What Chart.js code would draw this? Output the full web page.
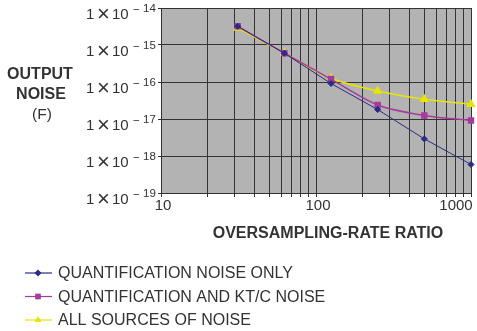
<!DOCTYPE html>
<html>
<head>
<meta charset="utf-8">
<script src="https://cdn.jsdelivr.net/npm/chart.js@4.4.0/dist/chart.umd.min.js"></script>
<style>
  html, body { margin: 0; padding: 0; background: #fff; }
  #wrap { width: 477px; height: 331px; }
</style>
</head>
<body>
<div id="wrap"><canvas id="grafico" width="477" height="331"></canvas></div>
<script>
// razao de sobreamostragem (eixo x)
var razoes = [31.25, 62.5, 125, 250, 500, 1000]

// ruido de saida (F) para cada serie
var ruidoQuantizacao = [3.2e-15, 6.0e-16, 9.1e-17, 1.8e-17, 2.9e-18, 5.9e-19]
var ruidoQuantKtc = [3.2e-15, 6.0e-16, 1.2e-16, 2.4e-17, 1.25e-17, 9.1e-18]
var ruidoTodas = [2.9e-15, 6.0e-16, 1.26e-16, 5.7e-17, 3.4e-17, 2.5e-17]

var nomesSeries = ['QUANTIFICATION NOISE ONLY', 'QUANTIFICATION AND KT/C NOISE', 'ALL SOURCES OF NOISE']
var expoentesY = [-19, -18, -17, -16, -15, -14]
var rotulosX = [10, 100, 1000]

var corAzul = '#2a2c84'
var corMagenta = '#a53b9c'
var corAmarelo = '#e6e600'

var fonte = '"Liberation Sans", Arial, sans-serif'

function pontos(valores) {
    return razoes.map((r, i) => ({ x: r, y: valores[i] }))
}

// fundo cinza da area do grafico
const fundoPlugin = {
    id: 'fundo',
    beforeDraw(chart) {
        const a = chart.chartArea
        const c = chart.ctx
        c.save()
        c.fillStyle = '#b3b3b3'
        c.fillRect(a.left, a.top, a.right - a.left, a.bottom - a.top)
        c.restore()
    }
}

// rotulos dos eixos, titulos e legenda
const textosPlugin = {
    id: 'textos',
    afterDraw(chart) {
        const c = chart.ctx
        const y = chart.scales.y
        const x = chart.scales.x
        c.save()
        c.fillStyle = '#333'
        c.textBaseline = 'middle'
        expoentesY.forEach(e => {
            const py = y.getPixelForValue(Math.pow(10, e))
            c.textAlign = 'left'
            c.font = '15px ' + fonte
            c.fillText('1', 86, py + 7)
            c.fillText('10', 112, py + 7)
            c.textAlign = 'center'
            c.font = '22px ' + fonte
            c.fillText('\u00d7', 103.5, py + 7)
            c.textAlign = 'left'
            c.font = '11.5px ' + fonte
            c.fillText('\u2212', 133, py + 2)
            c.fillText(String(Math.abs(e)), 143, py + 1)
        })

        // rotulos eixo x
        c.font = '15px ' + fonte
        c.textAlign = 'center'
        rotulosX.forEach(v => {
            const px = x.getPixelForValue(v)
            c.fillText(String(v), v == 1000 ? px - 15 : px + 2, 206)
        })

        // titulo eixo y
        c.textAlign = 'center'
        c.font = 'bold 16px ' + fonte
        c.fillText('OUTPUT', 40, 75)
        c.fillText('NOISE', 41, 95)
        c.font = '15.5px ' + fonte
        c.fillText('(F)', 42, 115)

        // titulo eixo x
        c.font = 'bold 16px ' + fonte
        c.fillText('OVERSAMPLING-RATE RATIO', 328, 234)

        // legenda
        const cores = [corAzul, corMagenta, corAmarelo]
        const simbolos = ['rectRot', 'rect', 'triangle']
        const raios = [3.5, 4, 4]
        nomesSeries.forEach((nome, i) => {
            const ly = 273 + i * 23.5
            c.strokeStyle = cores[i]
            c.lineWidth = 1.2
            c.beginPath()
            c.moveTo(25, ly)
            c.lineTo(52, ly)
            c.stroke()
            c.fillStyle = cores[i]
            Chart.helpers.drawPoint(c, { pointStyle: simbolos[i], radius: raios[i], borderWidth: 0 }, 38, ly)
            c.fillStyle = '#333'
            c.textAlign = 'left'
            c.font = '16px ' + fonte
            c.fillText(nome, 58, ly + 1)
        })
        c.restore()
    }
}

const ctx = document.getElementById('grafico')

var grafico = new Chart(ctx, {
    type: 'line',
    data: {
        datasets: [{
            label: nomesSeries[0],
            data: pontos(ruidoQuantizacao),
            borderColor: corAzul,
            backgroundColor: corAzul,
            borderWidth: 1,
            pointStyle: 'rectRot',
            pointRadius: 3,
            tension: 0,
            clip: false
        }, {
            label: nomesSeries[1],
            data: pontos(ruidoQuantKtc),
            borderColor: corMagenta,
            backgroundColor: corMagenta,
            borderWidth: 1.5,
            pointStyle: 'rect',
            pointRadius: 3.5,
            tension: 0.3,
            clip: false
        }, {
            label: nomesSeries[2],
            data: pontos(ruidoTodas),
            borderColor: corAmarelo,
            backgroundColor: corAmarelo,
            borderWidth: 1.5,
            pointStyle: 'triangle',
            pointRadius: 4,
            tension: 0.3,
            clip: false
        }]
    },
    options: {
        responsive: false,
        animation: false,
        layout: { padding: { top: 8, right: 6, left: 0, bottom: 0 } },
        plugins: {
            legend: { display: false },
            tooltip: { enabled: false }
        },
        scales: {
            x: {
                type: 'logarithmic',
                min: 10,
                max: 1000,
                afterFit: s => { s.height = 138 },
                afterBuildTicks: s => {
                    var t = []
                    for (var d = 10; d < 1000; d *= 10) {
                        for (var m = 1; m < 10; m++) t.push({ value: m * d })
                    }
                    t.push({ value: 1000 })
                    s.ticks = t
                },
                grid: { color: '#333', lineWidth: 1, tickLength: 4, drawTicks: true },
                border: { color: '#333', width: 1 },
                ticks: {
                    autoSkip: false,
                    maxRotation: 0,
                    callback: () => ''
                }
            },
            y: {
                type: 'logarithmic',
                min: 1e-19,
                max: 1e-14,
                afterFit: s => { s.width = 161 },
                afterBuildTicks: s => {
                    s.ticks = expoentesY.map(e => ({ value: Math.pow(10, e) }))
                },
                grid: { color: '#333', lineWidth: 1, tickLength: 3 },
                border: { color: '#333', width: 1 },
                ticks: { display: false }
            }
        }
    },
    plugins: [fundoPlugin, textosPlugin]
})
</script>
</body>
</html>
